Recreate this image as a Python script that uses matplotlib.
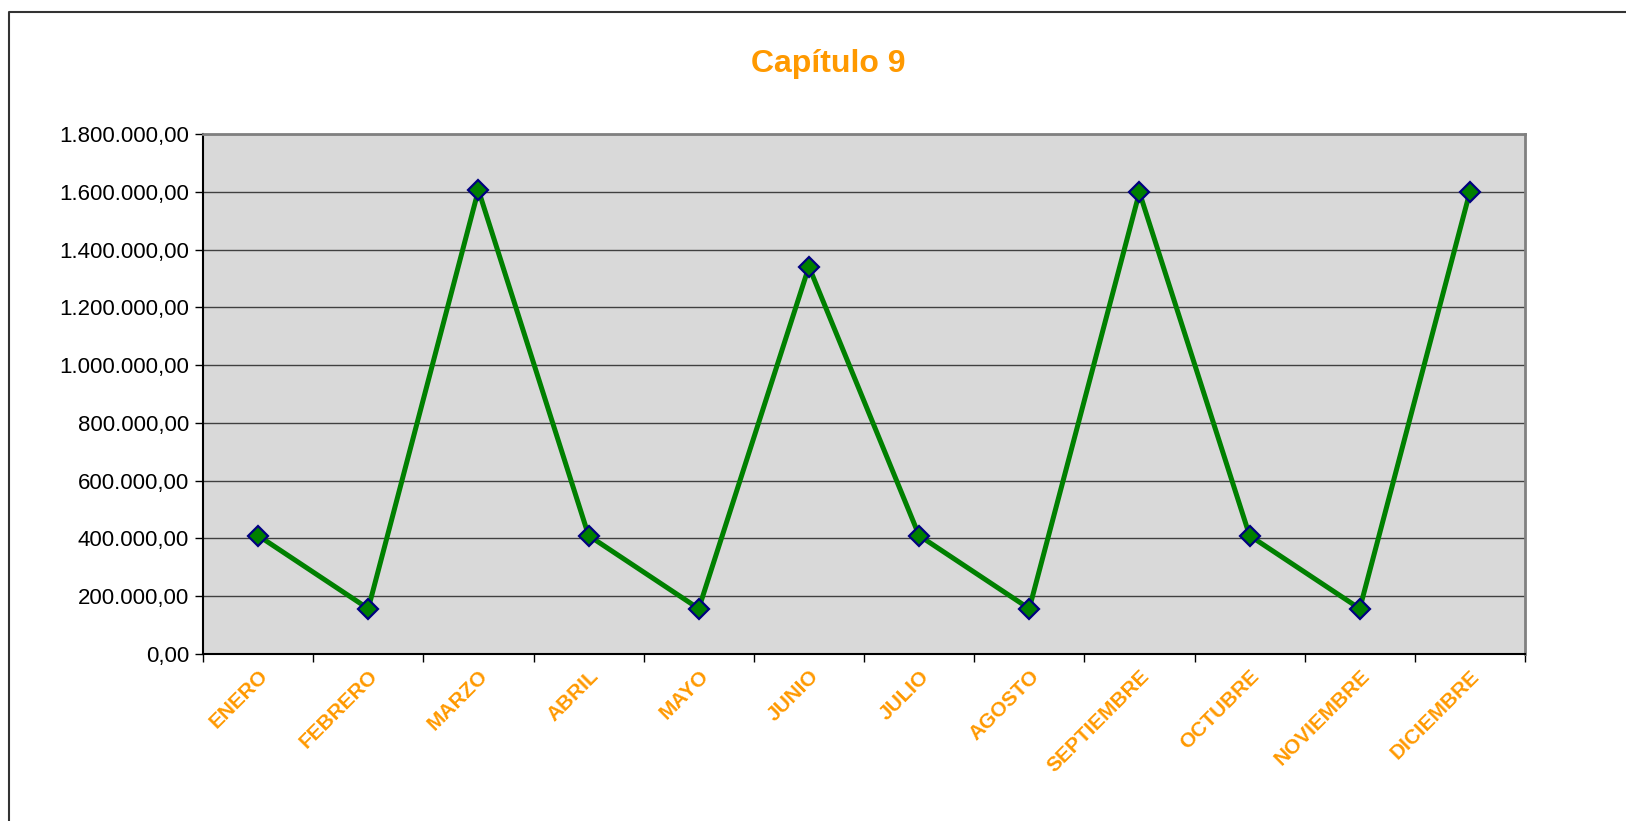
import numpy as np
import matplotlib.pyplot as plt
from matplotlib.ticker import FuncFormatter, FixedLocator
from matplotlib.lines import Line2D

plt.rcParams['font.family'] = ['Liberation Sans', 'DejaVu Sans']

meses = ["ENERO", "FEBRERO", "MARZO", "ABRIL", "MAYO", "JUNIO", "JULIO",
         "AGOSTO", "SEPTIEMBRE", "OCTUBRE", "NOVIEMBRE", "DICIEMBRE"]
valores = [410000, 157000, 1606000, 410000, 157000, 1341000, 410000,
           157000, 1598000, 410000, 157000, 1600000]
titulo = "Capítulo 9"

NARANJA = "#FF9900"

def fmt_es(v, pos):
    s = f"{v:,.2f}"
    return s.replace(",", "X").replace(".", ",").replace("X", ".")

fig = plt.figure(figsize=(16.26, 8.21), dpi=100)
ax = fig.add_axes([203/1626, 1 - 654/821, (1525 - 203)/1626, (654 - 134)/821])

x = np.arange(len(meses))
ax.set_facecolor("#D9D9D9")
ax.plot(x, valores, color="#008000", lw=3.6, marker="D", ms=10,
        markerfacecolor="#008000", markeredgecolor="#000080", markeredgewidth=1.6,
        zorder=3)

ax.set_xlim(-0.5, len(meses) - 0.5)
ax.set_ylim(0, 1800000)
ax.set_yticks(np.arange(0, 1800001, 200000))
ax.yaxis.set_major_formatter(FuncFormatter(fmt_es))
ax.grid(axis="y", color="#404040", lw=1)
ax.set_axisbelow(True)

ax.set_xticks(x)
ax.set_xticklabels(meses, rotation=45, ha="right", va="top", rotation_mode="anchor",
                   color=NARANJA, fontweight="bold", fontsize=15)
ax.xaxis.set_minor_locator(FixedLocator(np.arange(-0.5, len(meses), 1)))
ax.tick_params(axis="x", which="major", length=0, pad=9)
ax.tick_params(axis="x", which="minor", length=6, width=1, color="black")
ax.tick_params(axis="y", length=6, width=1, labelsize=16, pad=4)

for s in ("top", "right"):
    ax.spines[s].set_color("#808080")
    ax.spines[s].set_linewidth(2)
for s in ("left", "bottom"):
    ax.spines[s].set_color("black")
    ax.spines[s].set_linewidth(1.5)

fig.text(828/1626, 1 - 64/821, titulo, ha="center", va="center",
         color=NARANJA, fontweight="bold", fontsize=23)

# marco del área del gráfico (solo arriba e izquierda visibles)
bx, by = 9/1626, 1 - 12/821
fig.add_artist(Line2D([bx, bx, 1], [0, by, by], transform=fig.transFigure,
                      color="#333333", lw=1.5))

fig.savefig("out.png", dpi=100)
